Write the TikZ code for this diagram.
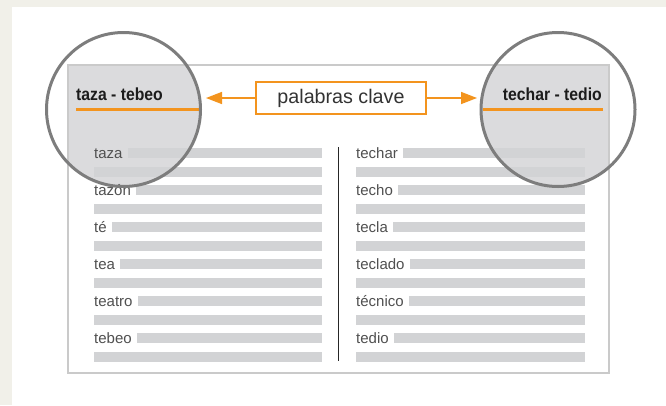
\documentclass[tikz,border=0pt]{standalone}
\usepackage{fontspec}
\setmainfont{Liberation Sans}
\newfontfamily\hdfont{Liberation Sans}[FakeStretch=0.9]
\usetikzlibrary{arrows.meta}
\definecolor{beige}{RGB}{241,240,233}
\definecolor{boxgray}{RGB}{202,202,202}
\definecolor{lensgray}{RGB}{219,219,221}
\definecolor{bargray}{RGB}{210,211,213}
\definecolor{ringgray}{RGB}{125,125,125}
\definecolor{orng}{RGB}{243,148,30}
\definecolor{wordc}{RGB}{80,80,80}
\definecolor{headc}{RGB}{28,28,28}
\tikzset{
  word/.style={inner sep=0pt, anchor=base west, text=wordc, font=\fontsize{15}{17}\selectfont},
  headtxt/.style={inner sep=0pt, text=headc, font=\hdfont\bfseries\fontsize{17.5}{20}\selectfont},
  barfill/.style={fill=bargray},
  ring/.style={draw=ringgray, line width=3pt},
  uline/.style={draw=orng, line width=2.3pt},
  keybox/.style={draw=orng, line width=1.2pt, fill=white, minimum width=170pt, minimum height=32pt, inner sep=0pt, text=black!80, font=\fontsize{19.7}{22}\selectfont},
  keyarrow/.style={draw=orng, line width=1.5pt, -{Triangle[length=16pt,width=12pt]}}
}
\begin{document}
\begin{tikzpicture}[x=1pt,y=-1pt]
\useasboundingbox (0,0) rectangle (666,405);
\fill[beige] (0,0) rectangle (666,405);
\fill[white] (12,7) rectangle (666,405);
% page box
\fill[white] (68,65) rectangle (609,373);
\begin{scope}
  \clip (68,65) rectangle (609,373);
  \fill[lensgray] (123.5,109.5) circle (77);
  \fill[lensgray] (558,109.5) circle (77);
\end{scope}
% left column
\foreach \w [count=\i from 0] in {taza,tazón,té,tea,teatro,tebeo}{
  \node[word] (L\i) at (94,{158+37*\i}) {\w};
  \fill[barfill] ([xshift=5pt]L\i.east |- 0,{148+37*\i}) rectangle (322,{158+37*\i});
  \fill[barfill] (94,{166.5+37*\i}) rectangle (322,{176.5+37*\i});
}
% right column
\foreach \w [count=\i from 0] in {techar,techo,tecla,teclado,técnico,tedio}{
  \node[word] (R\i) at (356,{158+37*\i}) {\w};
  \fill[barfill] ([xshift=5pt]R\i.east |- 0,{148+37*\i}) rectangle (585,{158+37*\i});
  \fill[barfill] (356,{166.5+37*\i}) rectangle (585,{176.5+37*\i});
}
\draw[line width=1pt, black!85] (338,147) -- (338,361);
\draw[boxgray, line width=2pt] (68,65) rectangle (609,373);
% headers
\node[headtxt, anchor=base west] (hl) at (76,100.7) {taza - tebeo};
\node[headtxt, anchor=base east] (hr) at (602,100.7) {techar - tedio};
\draw[uline] (76,109.5) -- (199,109.5);
\draw[uline] (483,109.5) -- (602.5,109.5);
% lenses
\draw[ring] (123.5,109.5) circle (77);
\draw[ring] (558,109.5) circle (77);
% key words box
\node[keybox] (kb) at (341,98) {palabras clave};
\coordinate (la) at (206,98);
\coordinate (ra) at (477,98);
\draw[keyarrow] (kb.west) -- (la);
\draw[keyarrow] (kb.east) -- (ra);
\end{tikzpicture}
\end{document}
